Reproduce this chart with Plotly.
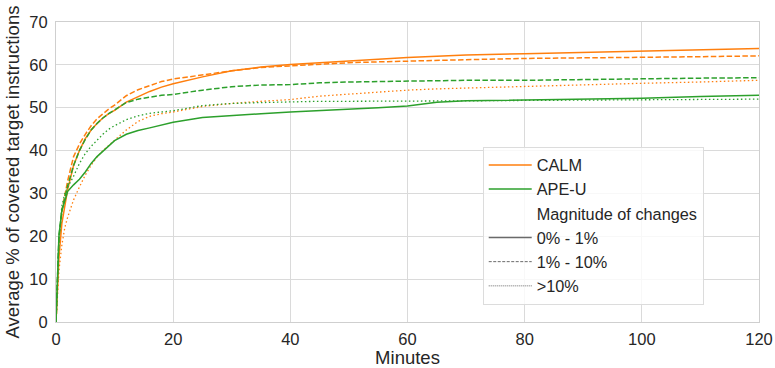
import plotly.graph_objects as go

minutes = [0, 0.5, 1, 1.5, 2, 3, 4, 5, 6, 7, 8, 9, 10, 12, 14, 16, 18, 20, 25, 30,
           35, 40, 45, 50, 55, 60, 65, 70, 80, 90, 100, 110, 120]

calm_0_1 = [0, 15, 23, 27.5, 31, 36.5, 40, 42.8, 44.8, 46.3, 47.6, 48.6, 49.4, 51.3, 52.5,
            53.8, 54.8, 55.6, 57.2, 58.6, 59.5, 60.1, 60.5, 60.9, 61.4, 61.7, 62.0, 62.3,
            62.6, 62.9, 63.3, 63.5, 63.8]
calm_1_10 = [0, 18, 26, 30, 33, 38.6, 41.5, 43.8, 45.8, 47.4, 48.6, 49.7, 50.6, 52.8, 54.2,
             55.2, 56.1, 56.7, 57.7, 58.6, 59.4, 59.8, 60.2, 60.5, 60.7, 60.9, 61.1, 61.2,
             61.5, 61.6, 61.8, 61.9, 62.1]
calm_10 = [0, 12, 18, 22, 24.5, 28.5, 31.5, 34.3, 36.6, 38.5, 40, 41.2, 42.4, 44.8, 46.8,
           48.0, 48.6, 49.0, 50.3, 51.0, 51.5, 51.9, 52.7, 53.2, 53.7, 54.1, 54.4, 54.6,
           54.9, 55.3, 55.7, 56.0, 56.4]
apeu_0_1 = [0, 20, 26, 28.5, 30.5, 32, 33.3, 35, 37, 38.6, 39.8, 41, 42.3, 43.8, 44.7,
            45.3, 46.0, 46.6, 47.7, 48.2, 48.6, 49.0, 49.3, 49.6, 50.0, 50.4, 51.3, 51.6,
            51.8, 52.0, 52.2, 52.6, 52.9]
apeu_1_10 = [0, 20, 26, 29, 31.8, 36.5, 40, 42.6, 44.8, 46.3, 47.6, 48.6, 49.4, 51.2, 52.0,
             52.5, 52.9, 53.1, 54.1, 54.9, 55.3, 55.4, 55.8, 56.0, 56.1, 56.2, 56.3, 56.4,
             56.4, 56.6, 56.7, 56.9, 57.0]
apeu_10 = [0, 19, 27, 30, 31.5, 34, 37, 39.3, 41, 42.5, 43.8, 45, 45.8, 47.2, 48.1,
           48.7, 49.0, 49.3, 50.5, 51.0, 51.2, 51.4, 51.5, 51.5, 51.5, 51.6, 51.6, 51.6,
           51.7, 51.8, 51.8, 51.9, 52.0]

x_ticks = [0, 20, 40, 60, 80, 100, 120]
y_ticks = [0, 10, 20, 30, 40, 50, 60, 70]

ORANGE = "#ff7f0e"
GREEN = "#2ca02c"
DASH = "5.5px,2.4px"
DOT = "1.5px,2.5px"
FONT = "Liberation Sans, Arial, sans-serif"
TXT = "#262626"

fig = go.Figure()

series = [
    (calm_0_1, ORANGE, "solid", 1.5),
    (calm_1_10, ORANGE, DASH, 1.5),
    (calm_10, ORANGE, DOT, 1.3),
    (apeu_0_1, GREEN, "solid", 1.5),
    (apeu_1_10, GREEN, DASH, 1.5),
    (apeu_10, GREEN, DOT, 1.3),
]
for ys, col, dash, w in series:
    fig.add_trace(go.Scatter(x=minutes, y=ys, mode="lines", showlegend=False,
                             line=dict(color=col, dash=dash, width=w), hoverinfo="skip"))

legend_items = [
    ("CALM", ORANGE, "solid", 1.5),
    ("APE-U", GREEN, "solid", 1.5),
    ("Magnitude of changes", "rgba(0,0,0,0)", "solid", 1.5),
    ("0% - 1%", "#6a6a6a", "solid", 1.5),
    ("1% - 10%", "#6a6a6a", "3px,1.5px", 1.0),
    (">10%", "#6a6a6a", "1px,1px", 1.0),
]
for name, col, dash, w in legend_items:
    fig.add_trace(go.Scatter(x=[None], y=[None], mode="lines", name=name,
                             line=dict(color=col, dash=dash, width=w)))

axis_common = dict(
    showgrid=True, gridcolor="#dadada", gridwidth=1,
    showline=True, linecolor="#cfcfcf", linewidth=1, mirror=True,
    zeroline=False, ticks="", tickfont=dict(size=16.5, color=TXT, family=FONT),
)

fig.update_layout(
    width=775, height=368,
    margin=dict(l=56, r=16, t=22, b=46, autoexpand=False),
    paper_bgcolor="white", plot_bgcolor="white",
    font=dict(family=FONT, color=TXT),
    xaxis=dict(range=[0, 120], tickvals=x_ticks, ticktext=[str(v) for v in x_ticks],
               title=dict(text="Minutes", font=dict(size=18.5, color=TXT, family=FONT), standoff=2),
               ticklabelstandoff=2, automargin=False, **axis_common),
    yaxis=dict(range=[0, 70], tickvals=y_ticks, ticktext=[str(v) for v in y_ticks],
               title=dict(text="Average % of covered target instructions",
                          font=dict(size=18.5, color=TXT, family=FONT), standoff=4),
               ticklabelstandoff=4, automargin=False, **axis_common),
    legend=dict(x=0.607, y=0.584, xanchor="left", yanchor="top",
                bgcolor="rgba(255,255,255,0.8)", bordercolor="#dcdcdc", borderwidth=1,
                font=dict(size=16.3, color=TXT, family=FONT), traceorder="normal",
                itemwidth=43, tracegroupgap=0),
)

fig.write_html("out.html")
